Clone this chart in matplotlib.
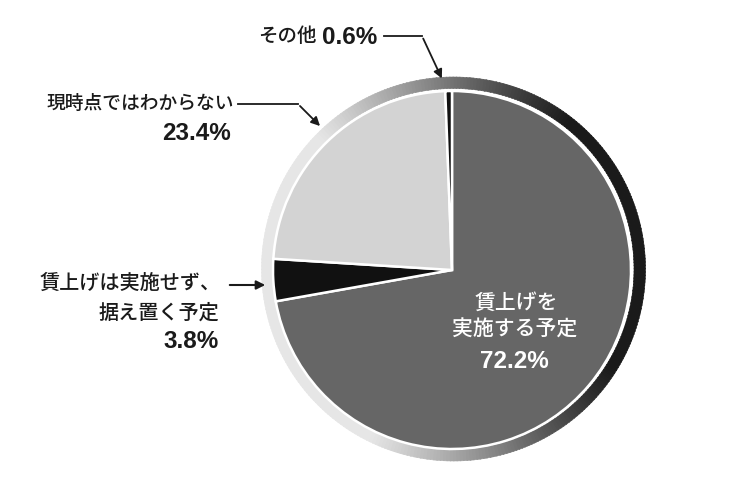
import numpy as np
import matplotlib.pyplot as plt
from matplotlib.patches import Wedge

plt.rcParams['font.family'] = ['Noto Sans CJK JP', 'DejaVu Sans']

# 賃上げ予定の割合 (%), 12時から時計回り
labels = ["賃上げを\n実施する予定", "賃上げは実施せず、\n据え置く予定", "現時点ではわからない", "その他"]
values = [72.2, 3.8, 23.4, 0.6]
pct_labels = ["72.2%", "3.8%", "23.4%", "0.6%"]
colors = ["#666666", "#111111", "#d3d3d3", "#111111"]

W, H = 750, 492
fig = plt.figure(figsize=(7.5, 4.92), dpi=100)
ax = fig.add_axes([0, 0, 1, 1])

def py(y):
    # pixel row (from top) -> data y
    return H - y

cx, cy, r = 452, py(270), 179

# 外側のグラデーションの輪
for i in range(360):
    b = 0.55 + 0.6 * np.cos(np.radians(i + 0.5 - 190))
    b = min(max(b, 0.1), 0.9)
    c = (b, b, b)
    ax.add_patch(Wedge((cx + 1.5, cy + 1), 192, i, i + 1.2, width=11.5,
                       facecolor=c, edgecolor=c, linewidth=0.4))

ax.pie(values, colors=colors, startangle=90, counterclock=False,
       center=(cx, cy), radius=r,
       wedgeprops=dict(edgecolor="white", linewidth=1.8))

txt = "#1a1a1a"
num_font = ["Liberation Sans", "Noto Sans CJK JP"]
jw = "medium"

# 内側のラベル
ax.text(516, py(303), "賃上げを", color="white", fontsize=15, fontweight=jw,
        ha="center", va="center")
ax.text(515, py(330), "実施する予定", color="white", fontsize=15, fontweight=jw,
        ha="center", va="center")
ax.text(514, py(361), pct_labels[0], color="white", fontsize=17.5, fontweight="bold",
        family=num_font, ha="center", va="center")

# その他
ax.text(317, py(37), "その他", color=txt, fontsize=14, fontweight=jw, ha="right", va="center")
ax.text(322, py(37), pct_labels[3], color=txt, fontsize=17.5, fontweight="bold",
        family=num_font, ha="left", va="center")
ax.plot([384, 422], [py(36), py(36)], color=txt, lw=1.3)
ax.annotate("", xy=(443, py(81)), xytext=(422, py(36)),
            arrowprops=dict(arrowstyle="-|>", color=txt, lw=1.3, mutation_scale=13))

# 現時点ではわからない
ax.text(234, py(103), "現時点ではわからない", color=txt, fontsize=13.5, fontweight=jw,
        ha="right", va="center")
ax.text(231, py(133), pct_labels[2], color=txt, fontsize=17.5, fontweight="bold",
        family=num_font, ha="right", va="center")
ax.plot([238, 298], [py(104), py(104)], color=txt, lw=1.3)
ax.annotate("", xy=(322, py(128)), xytext=(298, py(104)),
            arrowprops=dict(arrowstyle="-|>", color=txt, lw=1.3, mutation_scale=13))

# 据え置く予定
ax.text(221, py(283), "賃上げは実施せず、", color=txt, fontsize=14.5, fontweight=jw,
        ha="right", va="center")
ax.text(219, py(313), "据え置く予定", color=txt, fontsize=14.5, fontweight=jw,
        ha="right", va="center")
ax.text(219, py(342), pct_labels[1], color=txt, fontsize=17.5, fontweight="bold",
        family=num_font, ha="right", va="center")
ax.annotate("", xy=(268, py(285)), xytext=(227, py(285)),
            arrowprops=dict(arrowstyle="-|>", color=txt, lw=1.5, mutation_scale=13))

ax.set_aspect("equal")
ax.set_xlim(0, W)
ax.set_ylim(0, H)
ax.axis("off")

fig.savefig("out.png", dpi=100, facecolor="white")
